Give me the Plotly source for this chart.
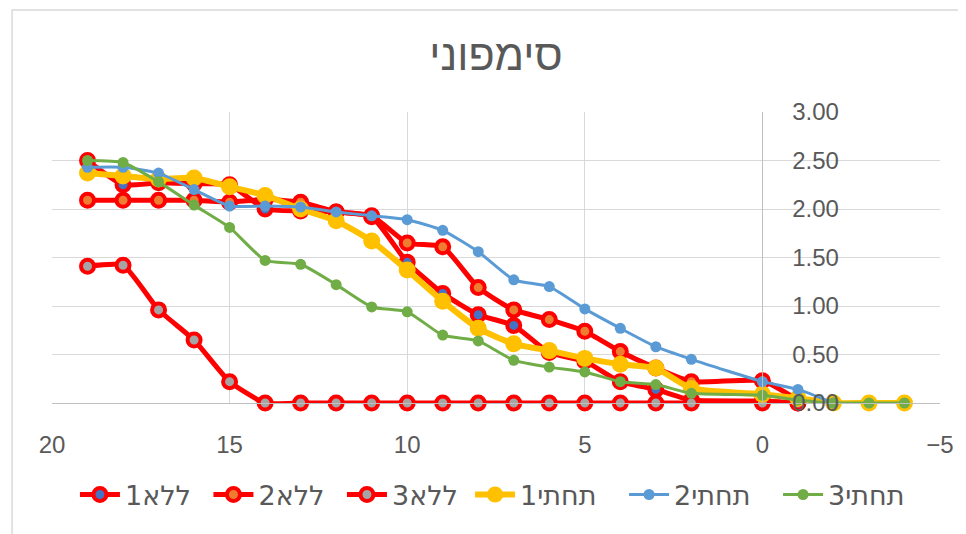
import plotly.graph_objects as go

x_vals = [19, 18, 17, 16, 15, 14, 13, 12, 11, 10, 9, 8, 7, 6, 5, 4, 3, 2, 0, -1, -2, -3, -4]

lla1 = [2.50, 2.25, 2.27, 2.26, 2.25, 2.00, 1.98, 1.97, 1.92, 1.45, 1.13, 0.91, 0.80, 0.52, 0.43, 0.22, 0.14, 0.03, 0.02, 0.00]
lla2 = [2.09, 2.09, 2.09, 2.09, 2.07, 2.10, 2.07, 1.97, 1.93, 1.65, 1.61, 1.19, 0.96, 0.86, 0.74, 0.53, 0.36, 0.22, 0.23, 0.03]
lla3 = [1.41, 1.42, 0.96, 0.65, 0.22, 0.00, 0.00, 0.00, 0.00, 0.00, 0.00, 0.00, 0.00, 0.00, 0.00, 0.00, 0.00, 0.00, 0.00, 0.00]
tahti1 = [2.37, 2.34, 2.31, 2.32, 2.23, 2.14, 2.00, 1.88, 1.67, 1.37, 1.05, 0.77, 0.61, 0.54, 0.46, 0.40, 0.36, 0.15, 0.09, 0.05, 0.00, 0.00, 0.00]
tahti2 = [2.43, 2.43, 2.37, 2.20, 2.03, 2.03, 2.02, 1.97, 1.93, 1.89, 1.78, 1.56, 1.27, 1.20, 0.97, 0.77, 0.58, 0.45, 0.22, 0.14, 0.00]
tahti3 = [2.50, 2.48, 2.28, 2.04, 1.81, 1.47, 1.43, 1.22, 0.99, 0.94, 0.70, 0.64, 0.44, 0.37, 0.32, 0.22, 0.19, 0.10, 0.08, 0.03, 0.00, 0.00, 0.00]

names = ["ללא1", "ללא2", "ללא3", "תחתי1", "תחתי2", "תחתי3"]

title_text = "סימפוני"
x_ticks = [20, 15, 10, 5, 0, -5]

RED = "#FF0000"
fig = go.Figure()

def red_series(y, name, center):
    fig.add_trace(go.Scatter(
        x=x_vals[:len(y)], y=y, name=name, mode="lines+markers", legend="legend",
        line=dict(color=RED, width=5, shape="spline", smoothing=0.5),
        marker=dict(size=13, color=center, line=dict(color=RED, width=4)),
        cliponaxis=False))

red_series(lla1, names[0], "#4472C4")
red_series(lla2, names[1], "#ED7D31")
red_series(lla3, names[2], "#A5A5A5")

fig.add_trace(go.Scatter(
    x=x_vals[:len(tahti1)], y=tahti1, name=names[3], mode="lines+markers", legend="legend2",
    line=dict(color="#FFC000", width=6, shape="spline", smoothing=0.5),
    marker=dict(size=17, color="#FFC000"), cliponaxis=False))
fig.add_trace(go.Scatter(
    x=x_vals[:len(tahti2)], y=tahti2, name=names[4], mode="lines+markers", legend="legend2",
    line=dict(color="#5B9BD5", width=3, shape="spline", smoothing=0.5),
    marker=dict(size=11, color="#5B9BD5"), cliponaxis=False))
fig.add_trace(go.Scatter(
    x=x_vals[:len(tahti3)], y=tahti3, name=names[5], mode="lines+markers", legend="legend2",
    line=dict(color="#70AD47", width=3, shape="spline", smoothing=0.5),
    marker=dict(size=11, color="#70AD47"), cliponaxis=False))

FONT = "Liberation Sans, Arial, sans-serif"
LFONT = "DejaVu Sans, sans-serif"
GREY = "#595959"

W, H = 958, 526  # page adds an 8px body margin
PL = 52  # plot left edge in page px
PW = 890

def px_to_paper(px):
    return (px - PL) / PW

legend_common = dict(orientation="h", yanchor="middle", y=-0.316, xanchor="left",
                     font=dict(size=27, color=GREY, family=LFONT), itemwidth=40,
                     bgcolor="rgba(0,0,0,0)", entrywidthmode="pixels")

fig.update_layout(
    width=W, height=H,
    margin=dict(l=44, r=24, t=104, b=131),
    paper_bgcolor="white", plot_bgcolor="white",
    font=dict(family=FONT, color=GREY, size=24),
    title=dict(text=title_text, x=0.5, xref="paper", y=1 - 47 / H, yref="container",
               xanchor="center", yanchor="middle", font=dict(size=43, color=GREY, family=FONT)),
    showlegend=True,
    legend=dict(legend_common, x=px_to_paper(75), entrywidth=78.5),
    legend2=dict(legend_common, x=px_to_paper(471), entrywidth=99),
    xaxis=dict(range=[20, -5], tickvals=x_ticks, showgrid=True, gridcolor="#D9D9D9", gridwidth=1,
               showline=True, linecolor="#BFBFBF", linewidth=1, zeroline=False, ticks="",
               ticklabelstandoff=20, tickfont=dict(size=24, color=GREY)),
    yaxis=dict(range=[0, 3], dtick=0.5, tick0=0, tickformat=".2f", showgrid=True, gridcolor="#D9D9D9",
               gridwidth=1, anchor="free", position=0.8, side="right", showline=True,
               linecolor="#BFBFBF", linewidth=1, zeroline=False, ticks="", ticklabelstandoff=24,
               tickfont=dict(size=24, color=GREY)),
)

# chart border
fig.add_shape(type="rect", xref="paper", yref="paper",
              x0=px_to_paper(12), x1=px_to_paper(990),
              y0=(403 - 560) / 291, y1=(403 - 10) / 291,
              line=dict(color="#D9D9D9", width=1.5), fillcolor="rgba(0,0,0,0)", layer="below")

fig.write_html("out.html")
